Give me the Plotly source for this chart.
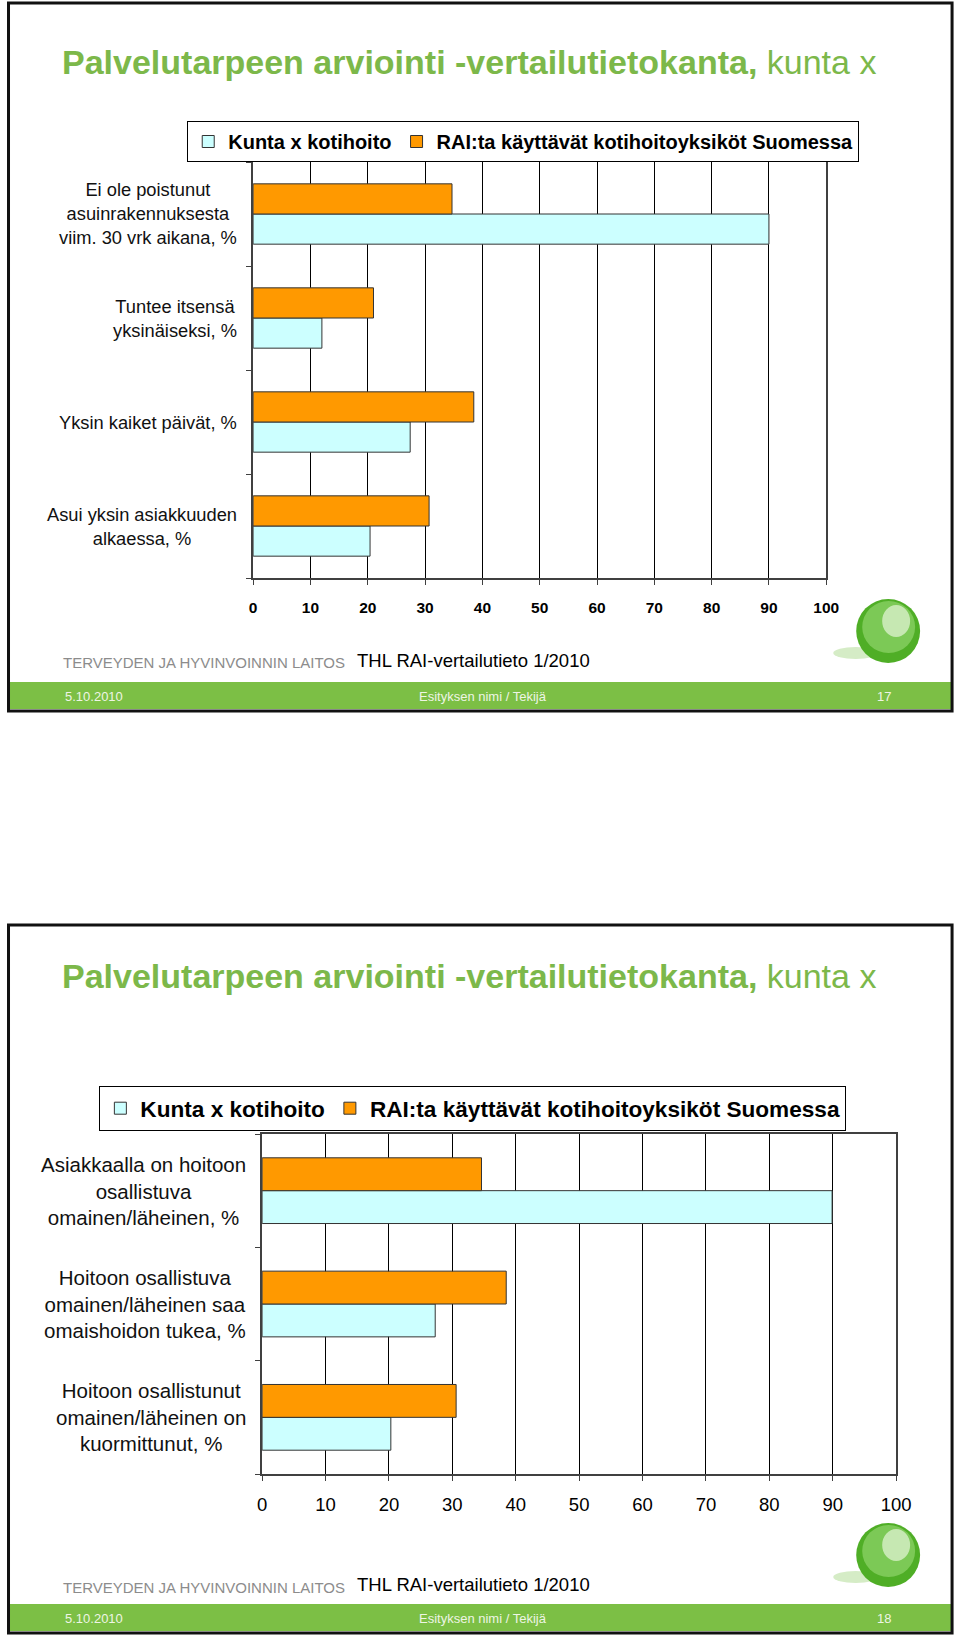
"""Two stacked THL slides: home care comparison bar charts."""

import plotly.graph_objects as go

W, H = 960, 1641
FIG_W = 975  # the page is photographed a little wider than it is drawn
FONT = "Liberation Sans, Arial, sans-serif"
GREEN = "#7cbf45"
TITLE_GREEN = "#7cb84a"
CYAN = "#ccffff"
ORANGE = "#ff9900"

SERIES = ["Kunta x kotihoito", "RAI:ta käyttävät kotihoitoyksiköt Suomessa"]

# slide 17
cats1 = [
    "Ei ole poistunut<br>asuinrakennuksesta<br>viim. 30 vrk aikana, %",
    "Tuntee itsensä<br>yksinäiseksi, %",
    "Yksin kaiket päivät, %",
    "Asui yksin asiakkuuden<br>alkaessa, %",
]
kunta1 = [90.0, 12.0, 27.4, 20.4]
rai1 = [34.7, 21.0, 38.5, 30.7]

# slide 18
cats2 = [
    "Asiakkaalla on hoitoon<br>osallistuva<br>omainen/läheinen, %",
    "Hoitoon osallistuva<br>omainen/läheinen saa<br>omaishoidon tukea, %",
    "Hoitoon osallistunut<br>omainen/läheinen on<br>kuormittunut, %",
]
kunta2 = [89.9, 27.3, 20.3]
rai2 = [34.6, 38.5, 30.6]

ticks = list(range(0, 101, 10))


def px(x):
    # small linear fix-up: the shot came out ~3px right at the left edge
    return (x * 1.0037 - 3.5) / W


def py(y):
    return 1 - y / H


fig = go.Figure()

for cats, kunta, rai, xa, ya, leg in [
    (cats1, kunta1, rai1, "x", "y", "legend"),
    (cats2, kunta2, rai2, "x2", "y2", "legend2"),
]:
    fig.add_trace(go.Bar(
        y=cats, x=kunta, name=SERIES[0], orientation="h",
        marker=dict(color=CYAN, line=dict(color="#333333", width=1)),
        xaxis=xa, yaxis=ya, legend=leg,
    ))
    fig.add_trace(go.Bar(
        y=cats, x=rai, name=SERIES[1], orientation="h",
        marker=dict(color=ORANGE, line=dict(color="#333333", width=1)),
        xaxis=xa, yaxis=ya, legend=leg,
    ))

xcommon = dict(
    range=[0, 100], tickvals=ticks, showgrid=True, gridcolor="#000000",
    gridwidth=1, showline=True, linecolor="#404040", linewidth=2,
    mirror=True, ticks="outside", ticklen=5, tickcolor="#404040",
    zeroline=False, fixedrange=True,
)
ycommon = dict(
    type="category", categoryorder="array", showgrid=False,
    showline=True, linecolor="#404040", linewidth=2, mirror=True,
    ticks="outside", ticklen=5, tickcolor="#404040", tickson="boundaries",
    showticklabels=False, fixedrange=True,
)

fig.update_layout(
    width=FIG_W, height=H,
    margin=dict(l=0, r=0, t=0, b=0),
    paper_bgcolor="white", plot_bgcolor="white",
    barmode="group", bargap=0.42,
    font=dict(family=FONT, color="#000000"),
    xaxis=dict(xcommon, domain=[px(252), px(826)], anchor="y",
               tickfont=dict(size=15.5, weight="bold"), ticklabelstandoff=9),
    yaxis=dict(ycommon, domain=[py(578), py(162)], anchor="x",
               categoryarray=cats1[::-1]),
    xaxis2=dict(xcommon, domain=[px(261), px(896)], anchor="y2",
                tickfont=dict(size=18.5), ticklabelstandoff=8),
    yaxis2=dict(ycommon, domain=[py(1474), py(1134)], anchor="x2",
                categoryarray=cats2[::-1]),
    legend=dict(
        orientation="h", x=px(186), y=py(121), xanchor="left", yanchor="top",
        bordercolor="#000000", borderwidth=1, bgcolor="white",
        font=dict(size=20, weight="bold"), itemwidth=30,
        traceorder="normal",
    ),
    legend2=dict(
        orientation="h", x=px(98), y=py(1086), xanchor="left", yanchor="top",
        bordercolor="#000000", borderwidth=1, bgcolor="white",
        font=dict(size=22.6, weight="bold"), itemwidth=30,
        traceorder="normal",
    ),
)

annotations = []
shapes = []

# category labels, centred lines to the left of each axis
for c in cats1:
    annotations.append(dict(
        x=0, y=c, xref="x", yref="y", text=c, showarrow=False,
        xanchor="right", align="center", xshift=-14,
        font=dict(size=18.3, color="#111111"),
    ))
for c in cats2:
    annotations.append(dict(
        x=0, y=c, xref="x2", yref="y2", text=c, showarrow=False,
        xanchor="right", align="center", xshift=-14,
        font=dict(size=20.5, color="#111111"),
    ))

# slide frames, titles, footers and logo
for top, bottom, title_y, foot_y, num, logo_y in [
    (3, 711, 62, 660, "17", 631),
    (925, 1633, 976, 1584, "18", 1555),
]:
    band_top = bottom - 29
    shapes.append(dict(
        type="rect", xref="paper", yref="paper",
        x0=px(8), x1=px(951), y0=py(band_top), y1=py(bottom - 2),
        fillcolor=GREEN, line=dict(width=0), layer="below",
    ))
    shapes.append(dict(
        type="rect", xref="paper", yref="paper",
        x0=px(7), x1=px(952), y0=py(bottom), y1=py(top),
        line=dict(color="#111111", width=3),
    ))
    annotations.append(dict(
        x=px(59), y=py(title_y), xref="paper", yref="paper",
        xanchor="left", yanchor="middle", showarrow=False,
        text="<b>Palvelutarpeen arviointi -vertailutietokanta,</b> kunta x",
        font=dict(size=34, color=TITLE_GREEN),
    ))
    annotations.append(dict(
        x=px(60), y=py(foot_y + 3), xref="paper", yref="paper",
        xanchor="left", yanchor="middle", showarrow=False,
        text="TERVEYDEN JA HYVINVOINNIN LAITOS",
        font=dict(size=15, color="#8c8c8c"),
    ))
    annotations.append(dict(
        x=px(354), y=py(foot_y), xref="paper", yref="paper",
        xanchor="left", yanchor="middle", showarrow=False,
        text="THL RAI-vertailutieto 1/2010",
        font=dict(size=18.5, color="#000000"),
    ))
    band_mid = band_top + 14
    for x, anchor, txt in [
        (62, "left", "5.10.2010"),
        (482, "center", "Esityksen nimi / Tekijä"),
        (893, "right", num),
    ]:
        annotations.append(dict(
            x=px(x), y=py(band_mid), xref="paper", yref="paper",
            xanchor=anchor, yanchor="middle", showarrow=False, text=txt,
            font=dict(size=13, color="#eef5e4"),
        ))
    # green sphere logo
    cx, cy = 888, logo_y
    shapes.append(dict(
        type="circle", xref="paper", yref="paper",
        x0=px(833), x1=px(878), y0=py(cy + 28), y1=py(cy + 16),
        fillcolor="#d5ecc6", line=dict(width=0),
    ))
    shapes.append(dict(
        type="circle", xref="paper", yref="paper",
        x0=px(cx - 32), x1=px(cx + 32), y0=py(cy + 32), y1=py(cy - 32),
        fillcolor="#4fae26", line=dict(width=0),
    ))
    shapes.append(dict(
        type="circle", xref="paper", yref="paper",
        x0=px(cx - 26), x1=px(cx + 27), y0=py(cy + 22), y1=py(cy - 30),
        fillcolor="#7cc956", line=dict(width=0),
    ))
    shapes.append(dict(
        type="circle", xref="paper", yref="paper",
        x0=px(cx - 6), x1=px(cx + 22), y0=py(cy + 6), y1=py(cy - 26),
        fillcolor="#c6e8b2", line=dict(width=0),
    ))

fig.update_layout(annotations=annotations, shapes=shapes)

fig.write_html(
    "out.html",
    config={"displayModeBar": False},
    post_script=(
        "document.documentElement.style.margin='0px';"
        "document.body.style.margin='0px';"
        "document.documentElement.style.overflow='hidden';"
        "document.body.style.overflow='hidden';"
    ),
)
